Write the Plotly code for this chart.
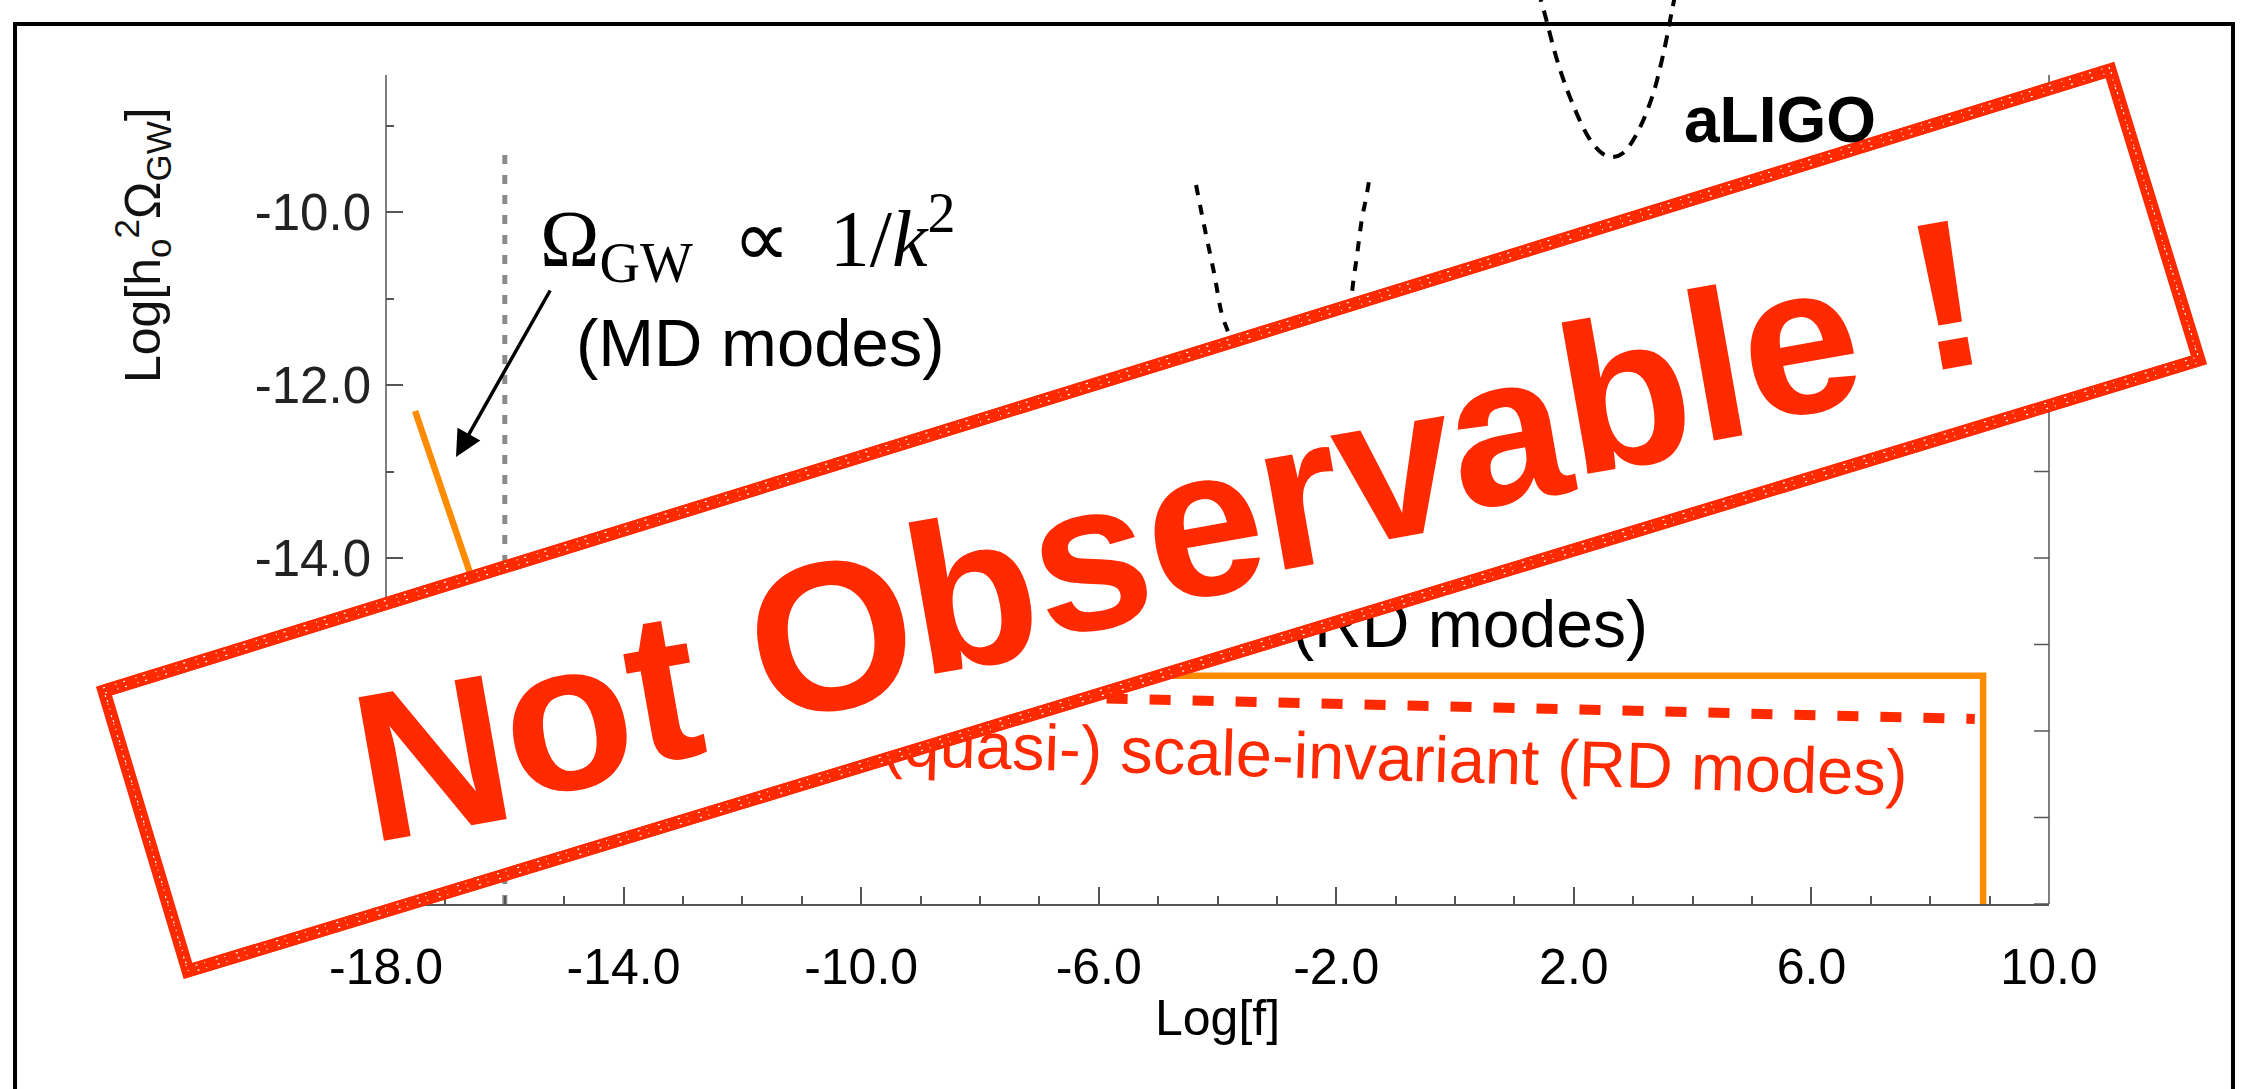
import math
import plotly.graph_objects as go

# ---------------- data ----------------
x_major_ticks = [-18, -14, -10, -6, -2, 2, 6, 10]
x_minor_ticks = [-17, -16, -15, -13, -12, -11, -9, -8, -7, -5, -4, -3, -1, 0, 1, 3, 4, 5, 7, 8, 9]
y_major_ticks = [-18, -16, -14, -12, -10]
y_minor_ticks = [-17, -15, -13, -11, -9]
y_right_ticks = [-18, -17, -16, -15, -14, -13, -12, -11, -10, -9]

# vertical grey dashed marker
grey_x = [-16.0, -16.0]
grey_y = [-18.0, -9.225]

# orange spectrum: MD modes (1/k^2) + RD plateau + cutoff
orange_x = [-17.51, -16.0, 8.89, 8.89]
orange_y = [-12.30, -15.36, -15.36, -18.0]

# red dashed (quasi-) scale-invariant spectrum
red_x = [-16.0, -4.95, 8.75]
red_y = [-15.46, -15.64, -15.86]

# black dashed sensitivity curve (middle, bottom hidden by the stamp)
sens1_x = [-4.361, -4.210, -4.058, -3.923, -3.806, -3.536, -3.031, -2.526, -2.19, -1.937, -1.802,
           -1.735, -1.650, -1.566, -1.498, -1.449]
sens1_y = [-9.688, -10.208, -10.705, -11.191, -11.422, -12.173, -13.098, -13.387, -13.33, -12.751, -11.711,
           -10.936, -10.497, -10.069, -9.838, -9.642]

# aLIGO sensitivity curve
aligo_x = [1.397, 1.515, 1.717, 1.953, 2.256, 2.492, 2.660, 2.829, 3.048, 3.317, 3.502, 3.654, 3.722]
aligo_y = [-7.434, -7.723, -8.243, -8.705, -9.145, -9.329, -9.364, -9.318, -9.110, -8.671, -8.185, -7.665, -7.434]

# ---------------- layout geometry ----------------
W, H = 2244, 1089
ML, MR, MT, MB = 386, 195, 0, 185
PW = W - ML - MR
PH = H - MT - MB
X_RANGE = [-18, 10]
Y_UNIT_PX = 86.5
Y_RANGE = [-18, -18 + PH / Y_UNIT_PX]
Y_AXIS_TOP = -8.416

RED = '#FF2A00'
ORANGE = '#FF8C00'
AXC = '#555555'
SANS = 'Liberation Sans, Arial, Helvetica, sans-serif'
SERIF = 'Liberation Serif, Times New Roman, serif'


def px_x(px):
    return (px - ML) / PW


def px_y(py):
    return (MT + PH - py) / PH


def data_y_paper(y):
    return (y - Y_RANGE[0]) / (Y_RANGE[1] - Y_RANGE[0])


fig = go.Figure()

fig.add_trace(go.Scatter(x=grey_x, y=grey_y, mode='lines',
                         line=dict(color='#8a8a8a', width=5, dash='9px,11px'),
                         hoverinfo='skip', showlegend=False))
fig.add_trace(go.Scatter(x=sens1_x, y=sens1_y, mode='lines',
                         line=dict(color='black', width=4, dash='10px,10px', shape='spline'),
                         hoverinfo='skip', showlegend=False))
fig.add_trace(go.Scatter(x=aligo_x, y=aligo_y, mode='lines',
                         line=dict(color='black', width=4, dash='12px,9px', shape='spline'),
                         hoverinfo='skip', showlegend=False))
fig.add_trace(go.Scatter(x=red_x, y=red_y, mode='lines',
                         line=dict(color=RED, width=10, dash='21px,22px'),
                         hoverinfo='skip', showlegend=False))
fig.add_trace(go.Scatter(x=orange_x, y=orange_y, mode='lines',
                         line=dict(color=ORANGE, width=6.5),
                         hoverinfo='skip', showlegend=False))

shapes = []
# left / right axis lines (one path) and the inward ticks of the right-hand axis
ytop = data_y_paper(Y_AXIS_TOP)
axis_path = f'M0,0 L0,{ytop:.5f} M1,0 L1,{ytop:.5f}'
tick_dx = 15 / PW
for v in y_right_ticks:
    yp = data_y_paper(v)
    axis_path += f' M1,{yp:.5f} L{1 - tick_dx:.5f},{yp:.5f}'
shapes.append(dict(type='path', xref='paper', yref='paper', path=axis_path,
                   line=dict(color=AXC, width=1.5), layer='below'))


# texts partly hidden behind the stamp (drawn as shape labels so the stamp covers them)
def hidden_label(cx, cy, text, size, color, angle):
    return dict(type='rect', xref='paper', yref='paper',
                x0=px_x(cx - 4), x1=px_x(cx + 4), y0=px_y(cy + 4), y1=px_y(cy - 4),
                line=dict(width=0), fillcolor='rgba(0,0,0,0)', layer='above',
                label=dict(text=text, font=dict(family=SANS, size=size, color=color),
                           textposition='middle center', textangle=angle, padding=0))


shapes.append(hidden_label(1470, 618, '(RD modes)', 66, 'black', 0))
shapes.append(hidden_label(1395, 752, '(quasi-) scale-invariant (RD modes)', 65, RED, 1.7))

# stamp
stamp = [(104, 691), (2110, 70), (2199, 360), (188, 971)]


def path_of(pts, dx=0.0, dy=0.0):
    s = ''
    for i, (a, b) in enumerate(pts):
        s += ('M' if i == 0 else 'L') + f'{px_x(a + dx):.5f},{px_y(b + dy):.5f} '
    return s + 'Z'


shapes.append(dict(type='path', xref='paper', yref='paper', path=path_of(stamp),
                   fillcolor='white', line=dict(color=RED, width=13), layer='above'))
shapes.append(dict(type='path', xref='paper', yref='paper',
                   path=path_of(stamp, 2, -5) + ' ' + path_of(stamp, -2, 5),
                   line=dict(color=RED, width=4), layer='above'))
shapes.append(dict(type='path', xref='paper', yref='paper',
                   path=path_of(stamp, 1, 2) + ' ' + path_of(stamp, -1, -3),
                   line=dict(color='white', width=1.2, dash='2px,11px,1px,7px'),
                   layer='above'))

# outer frame
shapes.append(dict(type='rect', xref='paper', yref='paper',
                   x0=px_x(15), x1=px_x(2233), y0=px_y(1120), y1=px_y(24),
                   line=dict(color='black', width=4), fillcolor='rgba(0,0,0,0)', layer='above'))

annotations = []
annotations.append(dict(xref='paper', yref='paper', x=px_x(142), y=px_y(245),
                        text='Log[h<sub>o</sub><sup>2</sup>Ω<sub>GW</sub>]', textangle=-90,
                        showarrow=False, xanchor='center', yanchor='middle',
                        font=dict(family=SANS, size=50, color='#111')))
annotations.append(dict(xref='paper', yref='paper', x=px_x(1217), y=px_y(1018),
                        text='Log[f]', showarrow=False, xanchor='center', yanchor='middle',
                        font=dict(family=SANS, size=50, color='black')))
annotations.append(dict(xref='paper', yref='paper', x=px_x(748), y=px_y(238),
                        text='Ω<sub>GW</sub>\u2002∝\u20021/<i>k</i><sup>2</sup>', showarrow=False,
                        xanchor='center', yanchor='middle',
                        font=dict(family=SERIF, size=80, color='black')))
annotations.append(dict(xref='paper', yref='paper', x=px_x(760), y=px_y(342),
                        text='(MD modes)', showarrow=False, xanchor='center', yanchor='middle',
                        font=dict(family=SANS, size=67, color='black')))
annotations.append(dict(xref='paper', yref='paper', x=px_x(1780), y=px_y(120),
                        text='<b>aLIGO</b>', showarrow=False, xanchor='center', yanchor='middle',
                        font=dict(family=SANS, size=64, color='black')))
annotations.append(dict(xref='paper', yref='paper', x=px_x(456), y=px_y(457),
                        ax=95, ay=-168, text='', showarrow=True, arrowhead=2,
                        arrowsize=1.5, arrowwidth=3.5, arrowcolor='black', standoff=0))

# stamp lettering, laid out letter by letter along the sheared baseline
STAMP_TEXT = 'Not Observable !'
ADV = {'N': .722, 'o': .611, 't': .333, ' ': .278, 'O': .778, 'b': .611, 's': .556,
       'e': .556, 'r': .389, 'v': .556, 'a': .556, 'l': .278, '!': .333}
F = 212
scale = F * 0.955
x_ink0, y_base0, slope = 387, 848, 0.3057
th = math.radians(10)
x0 = x_ink0 - 0.073 * scale
cum = 0.0
for ch in STAMP_TEXT:
    w = ADV[ch]
    if ch != ' ':
        xc = x0 + (cum + w / 2) * scale
        yb = y_base0 - (xc - x_ink0) * slope
        cx = xc - 0.35 * F * math.sin(th)
        cy = yb - 0.35 * F * math.cos(th)
        annotations.append(dict(xref='paper', yref='paper', x=px_x(cx), y=px_y(cy),
                                text=f'<b>{ch}</b>', showarrow=False, textangle=-10,
                                xanchor='center', yanchor='middle', borderpad=0,
                                font=dict(family=SANS, size=F, color=RED)))
    cum += w

fig.update_layout(
    width=W, height=H,
    margin=dict(l=ML, r=MR, t=MT, b=MB, pad=0),
    paper_bgcolor='white', plot_bgcolor='white',
    showlegend=False,
    xaxis=dict(range=X_RANGE, tickmode='array', tickvals=x_major_ticks,
               ticktext=[f'{v:.1f}' for v in x_major_ticks],
               ticks='inside', ticklen=17, tickwidth=1.5, tickcolor=AXC,
               showline=True, linecolor=AXC, linewidth=1.5, mirror=False,
               showgrid=False, zeroline=False, ticklabelstandoff=18,
               tickfont=dict(family=SANS, size=50, color='black'),
               minor=dict(tickmode='array', tickvals=x_minor_ticks, ticks='inside',
                          ticklen=8, tickwidth=1.5, tickcolor=AXC, showgrid=False)),
    yaxis=dict(range=Y_RANGE, tickmode='array', tickvals=y_major_ticks,
               ticktext=[f'{v:.1f}' for v in y_major_ticks],
               ticks='inside', ticklen=17, tickwidth=1.5, tickcolor=AXC,
               showline=False, showgrid=False, zeroline=False, ticklabelstandoff=14,
               tickfont=dict(family=SANS, size=51, color='#222'),
               minor=dict(tickmode='array', tickvals=y_minor_ticks, ticks='inside',
                          ticklen=8, tickwidth=1.5, tickcolor=AXC, showgrid=False)),
    shapes=shapes,
    annotations=annotations,
)

fig.write_html('out.html')
